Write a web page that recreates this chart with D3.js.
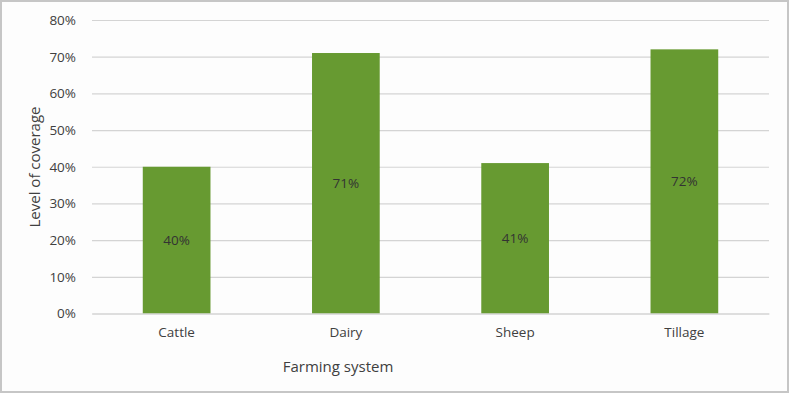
<!DOCTYPE html>
<html>
<head>
<meta charset="utf-8">
<script src="https://cdn.jsdelivr.net/npm/d3@7"></script>
<style>
  body { margin: 0; background: #fff; }
  svg text { font-family: "Open Sans", "Noto Sans", sans-serif; fill: #404040; }
</style>
</head>
<body>
<div id="chart-area"></div>
<script>
// data
var categories = ["Cattle", "Dairy", "Sheep", "Tillage"];
var coverage = [0.40, 0.71, 0.41, 0.72];
var yTicks = [0, 0.1, 0.2, 0.3, 0.4, 0.5, 0.6, 0.7, 0.8];

var data = categories.map(function(c, i){ return { system: c, value: coverage[i] }; });

var W = 790, H = 394;
var margin = { left: 92, right: 21, top: 20, bottom: 80 };
var width = W - margin.left - margin.right;
var height = 313.5 - margin.top;

var svg = d3.select("#chart-area").append("svg")
    .attr("width", W)
    .attr("height", H);

// frame
svg.append("rect")
    .attr("x", 1).attr("y", 1)
    .attr("width", W - 3).attr("height", H - 3)
    .attr("fill", "#fdfdfd")
    .attr("stroke", "#c6c6c6")
    .attr("stroke-width", 2);

var g = svg.append("g")
    .attr("transform", "translate(" + margin.left + "," + margin.top + ")");

var x = d3.scaleBand()
    .domain(categories)
    .range([0, width])
    .paddingInner(0.6)
    .paddingOuter(0.3);

var y = d3.scaleLinear().domain([0, 0.8]).range([height, 0]);

var fmt = d3.format(".0%");

// gridlines + y labels
var yAxis = g.append("g")
    .call(d3.axisLeft(y).tickValues(yTicks).tickFormat(fmt).tickSize(-width).tickPadding(16));
yAxis.select(".domain").remove();
yAxis.selectAll(".tick line").attr("stroke", "#d4d4d4").attr("stroke-width", 1.2);
yAxis.selectAll(".tick text").attr("font-size", "13.5px").style("fill", "#404040");

// bars
g.selectAll("rect.bar").data(data).enter()
    .append("rect")
    .attr("class", "bar")
    .attr("x", function(d){ return x(d.system); })
    .attr("y", function(d){ return y(d.value); })
    .attr("width", x.bandwidth())
    .attr("height", function(d){ return height - y(d.value); })
    .attr("fill", "#679a31");

// data labels
g.selectAll("text.lbl").data(data).enter()
    .append("text")
    .attr("class", "lbl")
    .attr("x", function(d){ return x(d.system) + x.bandwidth() / 2; })
    .attr("y", function(d){ return (y(d.value) + height) / 2; })
    .attr("dy", "0.35em")
    .attr("text-anchor", "middle")
    .attr("font-size", "13.5px")
    .style("fill", "#333")
    .text(function(d){ return fmt(d.value); });

// x axis
var xAxis = g.append("g")
    .attr("transform", "translate(0," + height + ")")
    .call(d3.axisBottom(x).tickSize(0).tickPadding(14));
xAxis.select(".domain").attr("stroke", "#d4d4d4").attr("stroke-width", 1.2);
xAxis.selectAll(".tick text").attr("font-size", "13.5px").style("fill", "#404040");

// axis titles
svg.append("text")
    .attr("x", 338)
    .attr("y", 372)
    .attr("text-anchor", "middle")
    .attr("font-size", "15px")
    .text("Farming system");

svg.append("text")
    .attr("transform", "translate(40,167) rotate(-90)")
    .attr("text-anchor", "middle")
    .attr("font-size", "15px")
    .text("Level of coverage");
</script>
</body>
</html>
